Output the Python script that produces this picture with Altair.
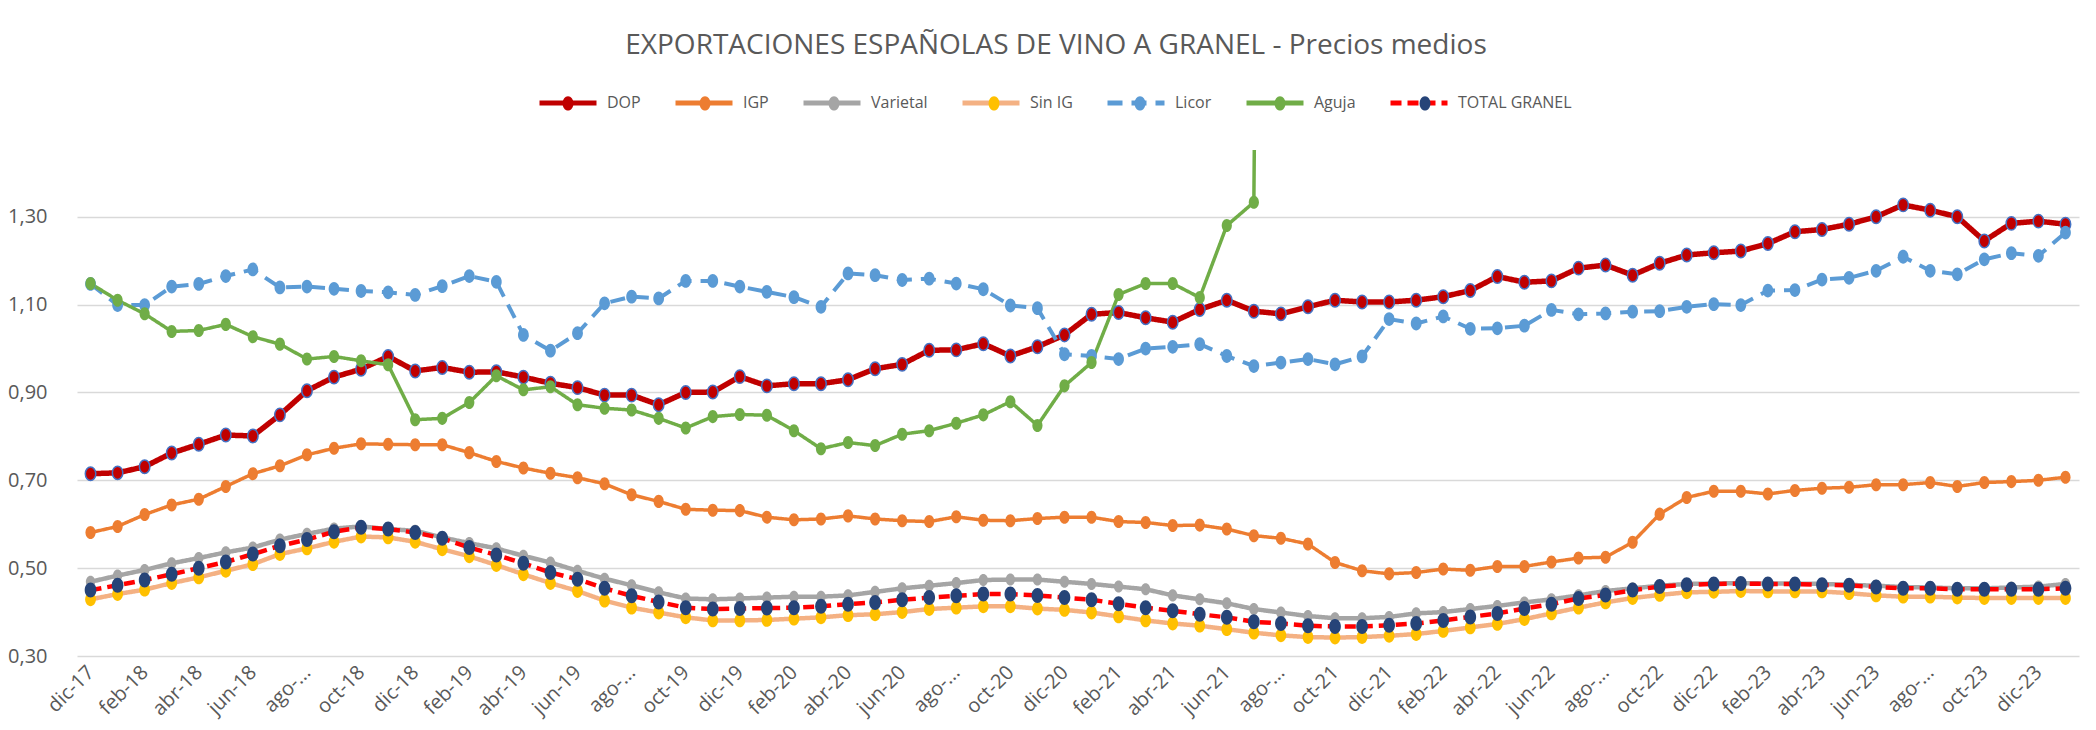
import altair as alt
import pandas as pd

meses = ["dic-17",
         "ene-18", "feb-18", "mar-18", "abr-18", "may-18", "jun-18", "jul-18", "ago-18", "sep-18", "oct-18", "nov-18", "dic-18",
         "ene-19", "feb-19", "mar-19", "abr-19", "may-19", "jun-19", "jul-19", "ago-19", "sep-19", "oct-19", "nov-19", "dic-19",
         "ene-20", "feb-20", "mar-20", "abr-20", "may-20", "jun-20", "jul-20", "ago-20", "sep-20", "oct-20", "nov-20", "dic-20",
         "ene-21", "feb-21", "mar-21", "abr-21", "may-21", "jun-21", "jul-21", "ago-21", "sep-21", "oct-21", "nov-21", "dic-21",
         "ene-22", "feb-22", "mar-22", "abr-22", "may-22", "jun-22", "jul-22", "ago-22", "sep-22", "oct-22", "nov-22", "dic-22",
         "ene-23", "feb-23", "mar-23", "abr-23", "may-23", "jun-23", "jul-23", "ago-23", "sep-23", "oct-23", "nov-23", "dic-23",
         "ene-24"]

series = ["DOP", "IGP", "Varietal", "Sin IG", "Licor", "Aguja", "TOTAL GRANEL"]

dop = [0.715, 0.717, 0.731, 0.762, 0.782, 0.803, 0.801, 0.849, 0.904, 0.935, 0.953, 0.982, 0.949,
       0.957, 0.946, 0.947, 0.935, 0.921, 0.911, 0.894, 0.894, 0.872, 0.900, 0.901, 0.936,
       0.915, 0.920, 0.920, 0.929, 0.954, 0.964, 0.996, 0.997, 1.011, 0.983, 1.004, 1.031,
       1.078, 1.082, 1.070, 1.060, 1.089, 1.110, 1.085, 1.079, 1.095, 1.110, 1.106, 1.106,
       1.110, 1.118, 1.132, 1.164, 1.151, 1.154, 1.183, 1.190, 1.167, 1.194, 1.213, 1.218,
       1.222, 1.239, 1.266, 1.271, 1.283, 1.300, 1.327, 1.315, 1.300, 1.245, 1.285, 1.290,
       1.283]
igp = [0.581, 0.595, 0.622, 0.644, 0.657, 0.686, 0.715, 0.733, 0.758, 0.773, 0.783, 0.782, 0.781,
       0.781, 0.763, 0.743, 0.728, 0.716, 0.706, 0.692, 0.667, 0.652, 0.634, 0.632, 0.631,
       0.616, 0.610, 0.612, 0.619, 0.612, 0.608, 0.606, 0.617, 0.609, 0.608, 0.613, 0.616,
       0.616, 0.606, 0.604, 0.597, 0.598, 0.589, 0.574, 0.568, 0.555, 0.513, 0.494, 0.487,
       0.490, 0.498, 0.495, 0.504, 0.504, 0.514, 0.523, 0.525, 0.559, 0.623, 0.661, 0.675,
       0.675, 0.669, 0.677, 0.682, 0.684, 0.690, 0.690, 0.695, 0.686, 0.695, 0.697, 0.700,
       0.707]
varietal = [0.469, 0.483, 0.496, 0.511, 0.523, 0.536, 0.547, 0.565, 0.578, 0.590, 0.595, 0.589, 0.585,
            0.570, 0.557, 0.545, 0.528, 0.513, 0.494, 0.476, 0.461, 0.445, 0.431, 0.429, 0.431,
            0.433, 0.435, 0.435, 0.438, 0.446, 0.454, 0.460, 0.466, 0.473, 0.474, 0.474, 0.469,
            0.464, 0.458, 0.452, 0.438, 0.429, 0.420, 0.407, 0.399, 0.391, 0.386, 0.386, 0.389,
            0.397, 0.400, 0.407, 0.414, 0.422, 0.429, 0.438, 0.448, 0.454, 0.460, 0.464, 0.465,
            0.466, 0.465, 0.465, 0.464, 0.462, 0.460, 0.457, 0.456, 0.454, 0.454, 0.456, 0.458,
            0.464]
sin_ig = [0.429, 0.441, 0.451, 0.466, 0.479, 0.494, 0.509, 0.532, 0.545, 0.560, 0.572, 0.570, 0.560,
          0.543, 0.527, 0.507, 0.486, 0.466, 0.448, 0.426, 0.410, 0.399, 0.388, 0.381, 0.381,
          0.382, 0.385, 0.388, 0.393, 0.395, 0.400, 0.407, 0.410, 0.413, 0.413, 0.408, 0.405,
          0.399, 0.390, 0.381, 0.374, 0.369, 0.361, 0.353, 0.347, 0.343, 0.342, 0.343, 0.346,
          0.350, 0.357, 0.365, 0.373, 0.384, 0.397, 0.410, 0.422, 0.432, 0.439, 0.445, 0.446,
          0.448, 0.447, 0.447, 0.447, 0.443, 0.438, 0.435, 0.435, 0.433, 0.432, 0.432, 0.432,
          0.432]
licor = [1.147, 1.099, 1.099, 1.141, 1.147, 1.165, 1.180, 1.139, 1.141, 1.136, 1.131, 1.128, 1.122,
         1.142, 1.165, 1.152, 1.031, 0.995, 1.035, 1.103, 1.118, 1.114, 1.154, 1.154, 1.141,
         1.129, 1.117, 1.095, 1.171, 1.167, 1.156, 1.159, 1.148, 1.135, 1.098, 1.092, 0.987,
         0.983, 0.976, 1.000, 1.004, 1.010, 0.983, 0.960, 0.968, 0.976, 0.964, 0.982, 1.067,
         1.057, 1.073, 1.045, 1.046, 1.052, 1.088, 1.078, 1.080, 1.084, 1.085, 1.095, 1.101,
         1.099, 1.132, 1.133, 1.157, 1.161, 1.177, 1.209, 1.177, 1.169, 1.203, 1.217, 1.211,
         1.264]
aguja = [1.148, 1.110, 1.079, 1.039, 1.041, 1.055, 1.027, 1.010, 0.976, 0.982, 0.972, 0.963, 0.838,
         0.841, 0.877, 0.938, 0.906, 0.913, 0.872, 0.864, 0.860, 0.841, 0.819, 0.845, 0.850,
         0.848, 0.813, 0.772, 0.786, 0.779, 0.805, 0.813, 0.830, 0.849, 0.879, 0.825, 0.915,
         0.968, 1.123, 1.148, 1.148, 1.116, 1.280, 1.333, 8.500, None, None, None, None,
         None, None, None, None, None, None, None, None, None, None, None, None,
         None, None, None, None, None, None, None, None, None, None, None, None,
         None]
total = [0.450, 0.461, 0.473, 0.486, 0.500, 0.514, 0.532, 0.551, 0.565, 0.583, 0.593, 0.589, 0.581,
         0.568, 0.547, 0.530, 0.511, 0.490, 0.475, 0.454, 0.437, 0.423, 0.410, 0.407, 0.408,
         0.409, 0.410, 0.413, 0.418, 0.422, 0.428, 0.433, 0.437, 0.441, 0.441, 0.438, 0.433,
         0.428, 0.419, 0.410, 0.403, 0.395, 0.388, 0.378, 0.374, 0.369, 0.367, 0.367, 0.370,
         0.374, 0.381, 0.389, 0.397, 0.408, 0.418, 0.431, 0.439, 0.450, 0.458, 0.462, 0.464,
         0.465, 0.464, 0.464, 0.462, 0.461, 0.457, 0.454, 0.454, 0.452, 0.452, 0.452, 0.452,
         0.454]

valores = [dop, igp, varietal, sin_ig, licor, aguja, total]
etiquetas_y = [0.30, 0.50, 0.70, 0.90, 1.10, 1.30]
titulo = "EXPORTACIONES ESPAÑOLAS DE VINO A GRANEL - Precios medios"

# styles
color_linea = ["#C00000", "#ED7D31", "#A5A5A5", "#F4B183", "#5B9BD5", "#70AD47", "#FF0000"]
color_marca = ["#C00000", "#ED7D31", "#A5A5A5", "#FFC000", "#5B9BD5", "#70AD47", "#264478"]
trazos = [[1, 0], [1, 0], [1, 0], [1, 0], [15, 9], [1, 0], [11, 6]]
grosor = [5.5, 3.5, 4.5, 4.5, 4, 3.5, 4.5]
tam_marca = dict(zip(series, [180, 170, 145, 190, 190, 170, 225]))

filas = []
for s, vals in zip(series, valores):
    assert len(vals) == len(meses), (s, len(vals))
    for m, v in zip(meses, vals):
        filas.append({"mes": m, "serie": s, "serie_m": s, "valor": v, "tam": tam_marca[s]})
df = pd.DataFrame(filas)

FONT = "Open Sans"
GRIS = "#595959"
ELIPSE = "M0,-1A0.78,1,0,1,1,0,1A0.78,1,0,1,1,0,-1Z"
ELIPSE_LEY = "M0,-0.25A0.19,0.25,0,1,1,0,0.25A0.19,0.25,0,1,1,0,-0.25Z"

LX, LY = 460, -78
comun_leyenda = dict(title=None, orient="none", legendX=LX, legendY=LY, direction="horizontal",
                     columns=7, symbolSize=3249, symbolStrokeWidth=5, labelFont=FONT,
                     labelFontSize=16, labelColor=GRIS, labelOffset=8, padding=0)
ley_lineas = alt.Legend(symbolType="stroke", zindex=1, columnPadding=24, **comun_leyenda)
# the marker legend lays its columns out slightly narrower; widen its padding so markers sit centred
ley_marcas = alt.Legend(symbolType=ELIPSE_LEY, symbolStrokeColor="transparent", labelOpacity=0,
                        columnPadding=33, zindex=2, **comun_leyenda)

x_enc = alt.X("mes:O", scale=alt.Scale(domain=meses),
              axis=alt.Axis(values=meses[::2], labelAngle=-45, title=None, ticks=False, domain=False,
                            grid=False, labelFont=FONT, labelFontSize=20, labelColor=GRIS,
                            labelPadding=13, labelAlign="right", labelBaseline="middle",
                            labelExpr="slice(datum.label,0,3)=='ago' ? 'ago-...' : datum.label"))
y_enc = alt.Y("valor:Q", scale=alt.Scale(domain=[0.30, 1.452], nice=False, zero=False),
              axis=alt.Axis(values=etiquetas_y, title=None, ticks=False, domain=False,
                            gridColor="#D9D9D9", gridWidth=1.5, labelFont=FONT, labelFontSize=20,
                            labelColor=GRIS, labelPadding=30,
                            labelExpr="replace(format(datum.value,'.2f'),'.',',')"))
stroke_enc = alt.Stroke("serie:N", scale=alt.Scale(domain=series, range=color_linea), legend=ley_lineas)
dash_enc = alt.StrokeDash("serie:N", scale=alt.Scale(domain=series, range=trazos), legend=ley_lineas)
fill_enc = alt.Fill("serie_m:N", sort=series, scale=alt.Scale(range=color_marca), legend=ley_marcas)

base = alt.Chart(df)
capas = []
for i, s in enumerate(series):
    linea = base.mark_line(strokeWidth=grosor[i], clip=True, strokeJoin="round").encode(
        x=x_enc, y=y_enc, stroke=stroke_enc, strokeDash=dash_enc
    ).transform_filter(alt.datum.serie == s)
    capas.append(linea)

puntos = base.mark_point(filled=True, shape=ELIPSE, opacity=1, clip=True, strokeWidth=1.5).encode(
    x=x_enc, y=y_enc, fill=fill_enc,
    size=alt.Size("tam:Q", scale=None, legend=None),
    stroke=alt.condition(alt.datum.serie == "DOP", alt.value("#4472C4"), alt.value("transparent")),
)
capas.append(puntos)

chart = alt.layer(*capas).properties(
    width=2002, height=506,
    autosize=alt.AutoSizeParams(type="none"),
    padding={"left": 69, "top": 142, "right": 9, "bottom": 66},
    title=alt.TitleParams(text=titulo, font=FONT, fontSize=28, color=GRIS, fontWeight="normal",
                          anchor="middle", dx=-22, offset=-10, baseline="alphabetic"),
    background="white",
).configure_view(stroke=None)

chart.save("out.html", embed_options={"renderer": "svg", "actions": False})
